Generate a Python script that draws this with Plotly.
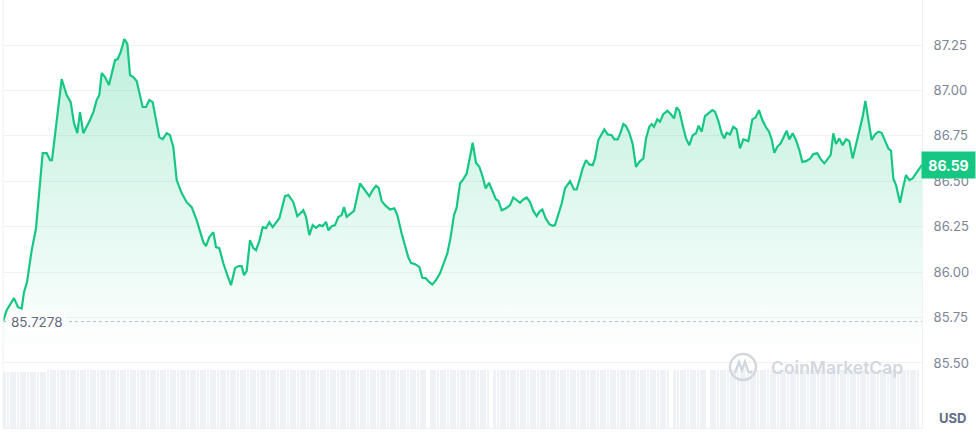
import plotly.graph_objects as go

t_min = [
    0, 5.5, 16.5, 22.5, 28, 31.5, 36, 43, 49.5, 59.5,
    65.5, 70.5, 73.5, 80.5, 88, 95.5, 101.5, 106.5, 111.5, 115.5,
    120.5, 130.5, 135.5, 140.5, 144.5, 148, 153, 159, 168, 172,
    176.5, 182, 186.5, 190.5, 195.5, 200.5, 204.5, 209.5, 214.5, 219.5,
    224.5, 229.5, 234.5, 239.5, 245.5, 250.5, 255.5, 260.5, 268, 275.5,
    283, 290.5, 295.5, 300.5, 304.5, 309.5, 315.5, 319.5, 324.5, 330.5,
    336.5, 342, 348, 353, 358, 361.5, 365.5, 370.5, 375.5, 379.5,
    384.5, 389.5, 394.5, 399.5, 404.5, 410.5, 414.5, 423, 428, 435.5,
    441.5, 450.5, 454.5, 459.5, 464.5, 469.5, 474.5, 479.5, 484.5, 488,
    493, 498, 503, 508, 511.5, 515.5, 520.5, 526.5, 535.5, 543,
    549.5, 554.5, 559.5, 563.5, 568, 574.5, 580.5, 587, 591.5, 598,
    603, 608, 612, 618, 624.5, 629, 634, 639, 644, 649.5,
    655.5, 661.5, 666.5, 671.5, 676.5, 680.5, 685.5, 690.5, 695.5, 700.5,
    704.5, 709.5, 714.5, 719.5, 724, 729, 734.5, 739.5, 743, 748,
    754.5, 760.5, 765.5, 770.5, 775.5, 780.5, 785.5, 790.5, 795.5, 800.5,
    804.5, 809, 814, 819.5, 824.5, 828, 833, 838, 843, 850.5,
    856.5, 860.5, 865.5, 869.5, 874.5, 879.5, 884.5, 888, 893, 898,
    902, 907, 913, 917, 922, 925.5, 930.5, 934.5, 939.5, 944.5,
    949.5, 954.5, 960.5, 964.5, 969.5, 973, 976.5, 981.5, 985.5, 990.5,
    996.5, 1001.5, 1006.5, 1010.5, 1014.5, 1019.5, 1024.5, 1029.5, 1034.5, 1039.5,
    1043.5, 1048, 1053, 1058, 1064, 1068, 1073, 1078, 1082, 1085.5,
    1090.5, 1095.5, 1100.5, 1105.5, 1110.5, 1118, 1124, 1129, 1134, 1139,
    1144, 1149, 1153, 1157, 1161.5, 1166.5, 1171.5, 1175.5, 1179.5, 1184.5,
    1189.5, 1194.5, 1199, 1204.5, 1210.5, 1215.5, 1221.5, 1226.5, 1232, 1237,
    1241.5, 1245.5, 1249.5, 1254.5, 1259.5, 1264.5, 1269.5, 1274.5, 1279.5, 1285.5,
    1289.5, 1293.5, 1298, 1303, 1308, 1313, 1318, 1323, 1328, 1332,
    1335.5, 1339.5, 1345.5, 1349.5, 1354.5, 1359.5, 1364.5, 1369.5, 1378.5,
]

price = [
    85.728, 85.79, 85.857, 85.807, 85.80, 85.89, 85.945, 86.12, 86.24, 86.655,
    86.655, 86.617, 86.617, 86.837, 87.063, 86.975, 86.936, 86.82, 86.765, 86.881,
    86.765, 86.837, 86.881, 86.947, 86.975, 87.096, 87.074, 87.03, 87.167, 87.173,
    87.211, 87.283, 87.256, 87.085, 87.074, 87.052, 86.986, 86.909, 86.909, 86.947,
    86.936, 86.837, 86.743, 86.732, 86.765, 86.754, 86.688, 86.507, 86.435, 86.385,
    86.358, 86.286, 86.22, 86.165, 86.143, 86.193, 86.22, 86.138, 86.132, 86.049,
    85.983, 85.928, 86.022, 86.033, 86.033, 85.983, 86.005, 86.176, 86.132, 86.121,
    86.171, 86.248, 86.242, 86.275, 86.248, 86.281, 86.297, 86.418, 86.424, 86.385,
    86.308, 86.341, 86.304, 86.204, 86.259, 86.244, 86.259, 86.253, 86.277, 86.231,
    86.253, 86.259, 86.303, 86.314, 86.358, 86.304, 86.319, 86.337, 86.488, 86.451,
    86.418, 86.451, 86.475, 86.464, 86.391, 86.363, 86.345, 86.351, 86.314, 86.213,
    86.139, 86.081, 86.051, 86.044, 86.029, 85.969, 85.967, 85.946, 85.932, 85.956,
    85.993, 86.048, 86.103, 86.194, 86.314, 86.356, 86.488, 86.512, 86.543, 86.635,
    86.712, 86.602, 86.58, 86.525, 86.461, 86.492, 86.442, 86.40, 86.393, 86.341,
    86.351, 86.369, 86.411, 86.396, 86.382, 86.40, 86.411, 86.387, 86.337, 86.308,
    86.332, 86.345, 86.296, 86.264, 86.255, 86.259, 86.314, 86.378, 86.461, 86.501,
    86.455, 86.455, 86.518, 86.571, 86.617, 86.593, 86.589, 86.626, 86.727, 86.764,
    86.786, 86.758, 86.754, 86.731, 86.731, 86.76, 86.815, 86.804, 86.767, 86.705,
    86.58, 86.607, 86.626, 86.736, 86.80, 86.815, 86.80, 86.841, 86.828, 86.87,
    86.888, 86.87, 86.846, 86.907, 86.888, 86.809, 86.736, 86.699, 86.754, 86.764,
    86.806, 86.773, 86.859, 86.874, 86.892, 86.883, 86.833, 86.764, 86.736, 86.767,
    86.758, 86.80, 86.786, 86.681, 86.731, 86.721, 86.841, 86.852, 86.892, 86.837,
    86.80, 86.773, 86.731, 86.657, 86.69, 86.709, 86.749, 86.778, 86.731, 86.764,
    86.727, 86.672, 86.607, 86.611, 86.624, 86.65, 86.654, 86.622, 86.599, 86.621,
    86.644, 86.764, 86.705, 86.736, 86.699, 86.731, 86.721, 86.626, 86.699, 86.791,
    86.855, 86.943, 86.846, 86.727, 86.758, 86.773, 86.767, 86.727, 86.681, 86.668,
    86.516, 86.479, 86.382, 86.455, 86.534, 86.507, 86.516, 86.543, 86.59,
]

# 5-minute volume bars (relative), mostly capped at the same height
volume = [
    96, 96, 96, 96, 96, 96, 96, 96, 96, 96, 96, 96, 96, 100, 100, 100, 100, 100, 100, 100, 100, 100, 100, 100, 100,
    100, 100, 100, 100, 100, 100, 100, 100, 100, 100, 100, 100, 100, 100, 100, 100, 100, 100, 100, 100, 100, 100, 100, 100, 100,
    100, 100, 100, 100, 100, 100, 100, 100, 100, 100, 100, 100, 100, 100, 100, 100, 100, 100, 100, 100, 100, 100, 100, 100, 100,
    100, 100, 100, 103, 100, 100, 100, 100, 100, 100, 100, 100, 100, 100, 100, 100, 100, 100, 100, 100, 100, 100, 100, 100, 100,
    100, 100, 100, 100, 100, 100, 100, 100, 100, 100, 100, 100, 100, 100, 100, 100, 100, 100, 100, 100, 100, 100, 100, 100, 100,
    100, 100, 0, 101, 101, 101, 101, 101, 101, 101, 101, 101, 101, 101, 101, 101, 101, 101, 101, 101, 101, 0, 103, 103, 103,
    103, 103, 103, 103, 103, 103, 103, 103, 103, 100, 100, 100, 100, 100, 100, 100, 100, 100, 100, 100, 100, 100, 100, 100, 100,
    100, 100, 100, 100, 100, 100, 100, 100, 100, 100, 100, 100, 100, 100, 100, 100, 100, 100, 100, 100, 100, 100, 100, 100, 100,
    0, 100, 100, 100, 100, 100, 100, 100, 100, 100, 100, 0, 100, 100, 100, 100, 100, 100, 100, 100, 100, 100, 100, 100, 100,
    100, 100, 100, 100, 100, 100, 100, 100, 100, 100, 100, 100, 100, 100, 100, 100, 100, 100, 100, 100, 100, 100, 100, 100, 100,
    100, 100, 100, 100, 100, 100, 100, 100, 100, 100, 100, 100, 100, 100, 100, 100, 100, 100, 100, 100, 100, 100, 100, 100, 100,
]
vol_t = [5 * i + 2.5 for i in range(len(volume))]

open_price = 85.7278
last_price = 86.59
y_ticks = [85.50, 85.75, 86.00, 86.25, 86.50, 86.75, 87.00, 87.25]

GREEN = "#16c784"
GRID = "#eff2f5"
LABEL = "#7d8597"
MARK = "#d3d7de"

fig = go.Figure()

fig.add_trace(go.Bar(
    x=vol_t, y=volume, yaxis="y2",
    marker=dict(color="#eef1f5", line=dict(width=0)),
    width=4.2, hoverinfo="skip", showlegend=False,
))

fig.add_trace(go.Scatter(
    x=t_min, y=price, mode="lines",
    line=dict(color=GREEN, width=2.2),
    fill="tozeroy",
    fillgradient=dict(
        type="vertical", start=85.55, stop=87.3,
        colorscale=[[0, "rgba(22,199,132,0)"], [1, "rgba(22,199,132,0.28)"]],
    ),
    showlegend=False,
))

fig.update_layout(
    width=976, height=434,
    margin=dict(l=3, r=54, t=0, b=6),
    paper_bgcolor="white", plot_bgcolor="white",
    font=dict(family="Inter", size=13, color=LABEL),
    bargap=0,
    xaxis=dict(range=[0, 1378.5], showgrid=False, showticklabels=False,
               zeroline=False, showline=True, linecolor=GRID, linewidth=1),
    yaxis=dict(range=[85.142, 87.498], side="right", tickvals=y_ticks,
               tickformat=".2f", gridcolor=GRID, zeroline=False,
               showline=True, linecolor=GRID, linewidth=1,
               ticks="outside", ticklen=8, tickcolor="rgba(0,0,0,0)",
               automargin=False),
    yaxis2=dict(domain=[0, 0.1355], range=[0, 100], visible=False,
                showgrid=False, fixedrange=True),
)

# opening-price reference line and its label
fig.add_shape(type="line", xref="paper", x0=0, x1=1, y0=open_price, y1=open_price,
              line=dict(color="#b3bac6", width=1, dash="dot"))
fig.add_annotation(xref="paper", x=0, xanchor="left", xshift=5, y=open_price,
                   text=f"{open_price}", showarrow=False, bgcolor="white",
                   borderpad=2, font=dict(size=13.5, color="#5f6a7e"))

# left border
fig.add_shape(type="line", xref="paper", yref="paper", x0=0, x1=0, y0=0, y1=1,
              line=dict(color=GRID, width=1))

# current price badge
fig.add_annotation(xref="paper", x=1, xanchor="left", xshift=-1, y=last_price,
                   yanchor="middle",
                   text=f"<b>{last_price:.2f}</b>", showarrow=False,
                   bgcolor=GREEN, width=47, height=20, borderpad=3,
                   font=dict(size=14, color="white"))

fig.add_annotation(xref="paper", yref="paper", x=1, xshift=30, xanchor="center",
                   y=0.023, yanchor="middle",
                   text="<b>USD</b>", showarrow=False,
                   font=dict(size=13, color="#616e85"))

# watermark: logo ring, its wave, and the wordmark
fig.add_shape(type="circle", xref="paper", yref="paper", xsizemode="pixel",
              ysizemode="pixel", xanchor=0.8052, yanchor=0.1425,
              x0=-13, x1=13, y0=-13, y1=13,
              line=dict(color=MARK, width=2.5))
fig.add_shape(type="path", xref="paper", yref="paper", xsizemode="pixel",
              ysizemode="pixel", xanchor=0.8052, yanchor=0.1425,
              path="M -8 -6 L -4 5 L -1 -3 L 2 5 L 5 -4 Q 7 -7 9 -4",
              line=dict(color=MARK, width=2.5))
fig.add_annotation(xref="paper", yref="paper", x=0.9075, xanchor="center",
                   y=0.1425, yanchor="middle",
                   text="CoinMarketCap", showarrow=False,
                   font=dict(size=17.5, color=MARK, weight=600))

fig.write_html("out.html", config={"displayModeBar": False},
               post_script="document.body.style.margin='0';")
